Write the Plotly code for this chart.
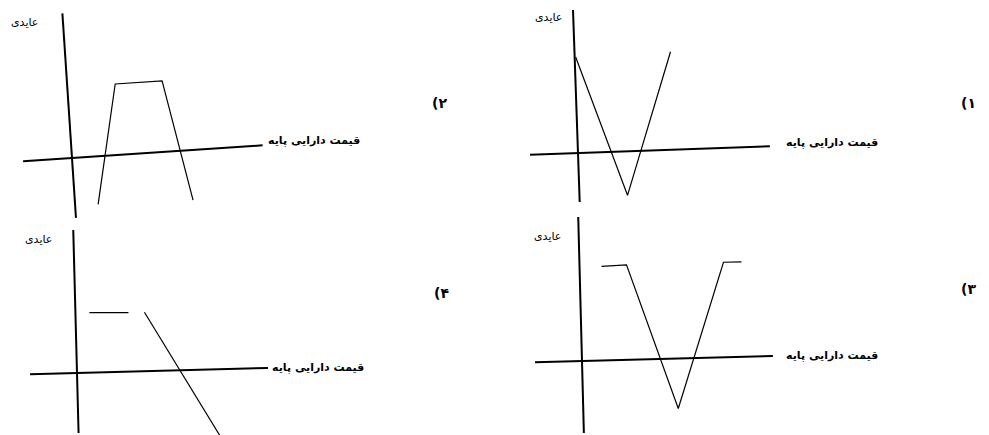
import math
import plotly.graph_objects as go

# payoff points of each panel, local units (x right, y up), origin = where the axes cross
p1_x = [1, 48, 96]
p1_y = [96, -44, 98]

p2_x = [23, 48, 95, 118]
p2_y = [-48, 71, 71, -50]

p3_x = [22, 47, 95, 144, 162]
p3_y = [94, 95, -50, 95, 95]

p4_x = [14, 53, None, 69, 141]
p4_y = [60, 59, None, 59, -66]

# how far the drawn axes reach: [left, right, bottom, top]
p1_axes = [-48, 192, -49, 143]
p2_axes = [-49, 191, -60, 145]
p3_axes = [-47, 191, -72, 144]
p4_axes = [-47, 191, -60, 143]

tags = ["(۱", "(۲", "(۳", "(۴"]
y_title = "عایدی"
x_title = "قیمت دارایی پایه"

# page placement (screen px): origin, tilt of the scan (deg), label spots
panels = [
    dict(xs=p1_x, ys=p1_y, ax=p1_axes, o=(578, 153), tilt=2.0,
         ylab=(548, 17), xlab=(832, 142), tag=(968, 103)),
    dict(xs=p2_x, ys=p2_y, ax=p2_axes, o=(72, 158), tilt=3.8,
         ylab=(24, 22), xlab=(314, 140), tag=(439, 103)),
    dict(xs=p3_x, ys=p3_y, ax=p3_axes, o=(582, 361), tilt=1.5,
         ylab=(547, 236), xlab=(832, 355), tag=(968, 289)),
    dict(xs=p4_x, ys=p4_y, ax=p4_axes, o=(77, 373), tilt=1.5,
         ylab=(38, 239), xlab=(318, 367), tag=(441, 293)),
]


def place(xs, ys, o, tilt):
    a = math.radians(tilt)
    px, py = [], []
    for x, y in zip(xs, ys):
        if x is None:
            px.append(None)
            py.append(None)
            continue
        px.append(o[0] + x * math.cos(a) - y * math.sin(a))
        py.append(o[1] - (x * math.sin(a) + y * math.cos(a)))
    return px, py


fig = go.Figure()
fnt = dict(family="DejaVu Sans", size=11, color="black")

for i, p in enumerate(panels):
    l, r, b, t = p["ax"]
    hx, hy = place([l, r], [0, 0], p["o"], p["tilt"])
    vx, vy = place([0, 0], [t, b], p["o"], p["tilt"])
    fig.add_trace(go.Scatter(x=hx, y=hy, mode="lines", line=dict(color="black", width=2)))
    fig.add_trace(go.Scatter(x=vx, y=vy, mode="lines", line=dict(color="black", width=2)))
    sx, sy = place(p["xs"], p["ys"], p["o"], p["tilt"])
    fig.add_trace(go.Scatter(x=sx, y=sy, mode="lines", line=dict(color="black", width=1.2)))

    fig.add_annotation(x=p["ylab"][0], y=p["ylab"][1], text=y_title, showarrow=False, font=fnt)
    fig.add_annotation(x=p["xlab"][0], y=p["xlab"][1], text="<b>" + x_title + "</b>",
                       showarrow=False, font=fnt)
    # left-to-right override so the paren stays on the left of the digit
    fig.add_annotation(x=p["tag"][0], y=p["tag"][1], text="<b>\u202d" + tags[i] + "\u202c</b>",
                       showarrow=False, font=dict(family="DejaVu Sans", size=14, color="black"))

# the page body keeps an 8px margin, so the figure starts at (8, 8) on screen
fig.update_layout(
    width=981, height=427,
    margin=dict(l=0, r=0, t=0, b=0),
    paper_bgcolor="white", plot_bgcolor="white",
    showlegend=False,
    xaxis=dict(range=[8, 989], visible=False),
    yaxis=dict(range=[435, 8], visible=False),
)

fig.write_html("out.html")
